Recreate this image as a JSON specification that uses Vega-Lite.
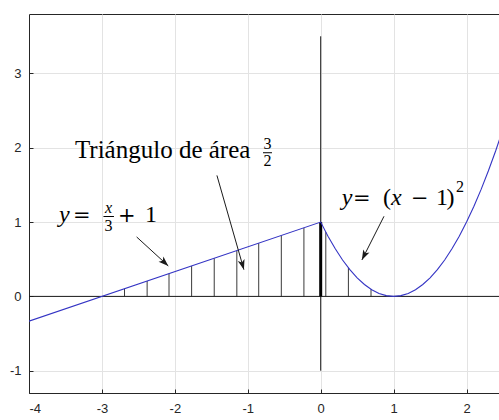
{
  "$schema": "https://vega.github.io/schema/vega-lite/v6.json",
  "width": 474,
  "height": 379,
  "autosize": {"type": "none"},
  "padding": {"left": 29, "top": 14, "right": 0, "bottom": 27},
  "background": "white",
  "config": {
    "view": {"stroke": "#262626", "strokeWidth": 1},
    "axis": {
      "grid": true,
      "gridColor": "#e3e3e3",
      "gridWidth": 1,
      "domain": true,
      "domainColor": "#262626",
      "domainWidth": 1,
      "ticks": true,
      "tickSize": -4,
      "tickColor": "#262626",
      "labelColor": "#262626",
      "labelFont": "Liberation Sans",
      "labelFontSize": 13,
      "title": null,
      "labelExpr": "toString(datum.value)"
    },
    "text": {"font": "Liberation Serif", "color": "#000000"}
  },
  "datasets": {
    "curve": [
      {"x": -4, "y": -0.3333},
      {"x": 0, "y": 1},
      {"x": 0.1, "y": 0.81},
      {"x": 0.2, "y": 0.64},
      {"x": 0.3, "y": 0.49},
      {"x": 0.4, "y": 0.36},
      {"x": 0.5, "y": 0.25},
      {"x": 0.6, "y": 0.16},
      {"x": 0.7, "y": 0.09},
      {"x": 0.8, "y": 0.04},
      {"x": 0.9, "y": 0.01},
      {"x": 1.0, "y": 0.0},
      {"x": 1.1, "y": 0.01},
      {"x": 1.2, "y": 0.04},
      {"x": 1.3, "y": 0.09},
      {"x": 1.4, "y": 0.16},
      {"x": 1.5, "y": 0.25},
      {"x": 1.6, "y": 0.36},
      {"x": 1.7, "y": 0.49},
      {"x": 1.8, "y": 0.64},
      {"x": 1.9, "y": 0.81},
      {"x": 2.0, "y": 1.0},
      {"x": 2.1, "y": 1.21},
      {"x": 2.2, "y": 1.44},
      {"x": 2.3, "y": 1.69},
      {"x": 2.4, "y": 1.96},
      {"x": 2.5, "y": 2.25}
    ],
    "hatch": [
      {"x": -2.69, "y": 0.103},
      {"x": -2.38, "y": 0.207},
      {"x": -2.08, "y": 0.307},
      {"x": -1.77, "y": 0.41},
      {"x": -1.46, "y": 0.513},
      {"x": -1.15, "y": 0.617},
      {"x": -0.85, "y": 0.717},
      {"x": -0.54, "y": 0.82},
      {"x": -0.23, "y": 0.923},
      {"x": 0.07, "y": 0.865},
      {"x": 0.38, "y": 0.384},
      {"x": 0.69, "y": 0.096}
    ],
    "edge": [{"x": 0, "y": 1}],
    "vaxis": [{"x": 0, "y1": -1, "y2": 3.5}],
    "arrows": [
      {"id": 1, "x1": -2.524, "y1": 0.80, "x2": -2.09, "y2": 0.41},
      {"id": 2, "x1": -1.423, "y1": 1.628, "x2": -1.053, "y2": 0.36},
      {"id": 3, "x1": 0.868, "y1": 1.078, "x2": 0.565, "y2": 0.49}
    ],
    "title": [{"text": "Triángulo de área", "x": -3.37, "y": 1.856}],
    "roman": [
      {"text": "1", "x": -2.41, "y": 1.001},
      {"text": "(", "x": 0.854, "y": 1.23},
      {"text": "1", "x": 1.581, "y": 1.23},
      {"text": ")", "x": 1.725, "y": 1.23}
    ],
    "ops": [
      {"text": "=", "x": -3.397, "y": 1.001},
      {"text": "+", "x": -2.78, "y": 1.001},
      {"text": "=", "x": 0.442, "y": 1.23},
      {"text": "−", "x": 1.239, "y": 1.23}
    ],
    "italic": [
      {"text": "y", "x": -3.589, "y": 1.001},
      {"text": "y", "x": 0.288, "y": 1.23},
      {"text": "x", "x": 0.964, "y": 1.23}
    ],
    "fracRoman": [
      {"text": "3", "x": -2.91, "y": 0.88},
      {"text": "2", "x": 1.91, "y": 1.40},
      {"text": "3", "x": -0.73, "y": 1.977},
      {"text": "2", "x": -0.73, "y": 1.748}
    ],
    "fracItalic": [
      {"text": "x", "x": -2.91, "y": 1.116}
    ],
    "bars": [
      {"x1": -2.979, "x2": -2.835, "y": 1.075},
      {"x1": -0.791, "x2": -0.668, "y": 1.933}
    ]
  },
  "layer": [
    {
      "data": {"name": "hatch"},
      "mark": {"type": "rule", "color": "#3a3a3a", "strokeWidth": 1},
      "encoding": {
        "x": {"field": "x", "type": "quantitative", "scale": {"domain": [-4, 2.5], "nice": false}, "axis": {"values": [-4, -3, -2, -1, 0, 1, 2], "labelPadding": 13}},
        "y": {"field": "y", "type": "quantitative", "scale": {"domain": [-1.3, 3.8], "nice": false}, "axis": {"values": [-1, 0, 1, 2, 3], "labelPadding": 12}},
        "y2": {"datum": 0}
      }
    },
    {
      "data": {"values": [{}]},
      "mark": {"type": "rule", "color": "#1a1a1a", "strokeWidth": 1},
      "encoding": {"y": {"datum": 0, "type": "quantitative"}}
    },
    {
      "data": {"name": "vaxis"},
      "mark": {"type": "rule", "color": "#1a1a1a", "strokeWidth": 1},
      "encoding": {
        "x": {"field": "x", "type": "quantitative"},
        "y": {"field": "y1", "type": "quantitative"},
        "y2": {"field": "y2"}
      }
    },
    {
      "data": {"name": "edge"},
      "mark": {"type": "rule", "color": "#000000", "strokeWidth": 3},
      "encoding": {
        "x": {"field": "x", "type": "quantitative"},
        "y": {"field": "y", "type": "quantitative"},
        "y2": {"datum": 0}
      }
    },
    {
      "data": {"name": "curve"},
      "mark": {"type": "line", "color": "#3434c4", "strokeWidth": 1.1, "clip": true},
      "encoding": {
        "x": {"field": "x", "type": "quantitative"},
        "y": {"field": "y", "type": "quantitative"}
      }
    },
    {
      "data": {"name": "arrows"},
      "mark": {"type": "rule", "color": "#1a1a1a", "strokeWidth": 1},
      "encoding": {
        "x": {"field": "x1", "type": "quantitative"},
        "y": {"field": "y1", "type": "quantitative"},
        "x2": {"field": "x2"},
        "y2": {"field": "y2"}
      }
    },
    {
      "data": {"name": "arrows"},
      "transform": [{"filter": "datum.id == 1"}],
      "mark": {"type": "point", "filled": true, "color": "#1a1a1a", "opacity": 1, "size": 100, "angle": 133, "shape": "M0,0L-0.7,2L0,1.5L0.7,2Z"},
      "encoding": {
        "x": {"field": "x2", "type": "quantitative"},
        "y": {"field": "y2", "type": "quantitative"}
      }
    },
    {
      "data": {"name": "arrows"},
      "transform": [{"filter": "datum.id == 2"}],
      "mark": {"type": "point", "filled": true, "color": "#1a1a1a", "opacity": 1, "size": 100, "angle": 164, "shape": "M0,0L-0.7,2L0,1.5L0.7,2Z"},
      "encoding": {
        "x": {"field": "x2", "type": "quantitative"},
        "y": {"field": "y2", "type": "quantitative"}
      }
    },
    {
      "data": {"name": "arrows"},
      "transform": [{"filter": "datum.id == 3"}],
      "mark": {"type": "point", "filled": true, "color": "#1a1a1a", "opacity": 1, "size": 100, "angle": 206.6, "shape": "M0,0L-0.7,2L0,1.5L0.7,2Z"},
      "encoding": {
        "x": {"field": "x2", "type": "quantitative"},
        "y": {"field": "y2", "type": "quantitative"}
      }
    },
    {
      "data": {"name": "bars"},
      "mark": {"type": "rule", "color": "#000000", "strokeWidth": 1},
      "encoding": {
        "x": {"field": "x1", "type": "quantitative"},
        "x2": {"field": "x2"},
        "y": {"field": "y", "type": "quantitative"}
      }
    },
    {
      "data": {"name": "title"},
      "mark": {"type": "text", "align": "left", "baseline": "alphabetic", "fontSize": 25},
      "encoding": {
        "x": {"field": "x", "type": "quantitative"},
        "y": {"field": "y", "type": "quantitative"},
        "text": {"field": "text"}
      }
    },
    {
      "data": {"name": "roman"},
      "mark": {"type": "text", "align": "left", "baseline": "alphabetic", "fontSize": 24},
      "encoding": {
        "x": {"field": "x", "type": "quantitative"},
        "y": {"field": "y", "type": "quantitative"},
        "text": {"field": "text"}
      }
    },
    {
      "data": {"name": "ops"},
      "mark": {"type": "text", "align": "left", "baseline": "alphabetic", "fontSize": 21, "font": "DejaVu Serif", "fontWeight": "normal"},
      "encoding": {
        "x": {"field": "x", "type": "quantitative"},
        "y": {"field": "y", "type": "quantitative"},
        "text": {"field": "text"}
      }
    },
    {
      "data": {"name": "italic"},
      "mark": {"type": "text", "align": "left", "baseline": "alphabetic", "fontSize": 24, "fontStyle": "italic"},
      "encoding": {
        "x": {"field": "x", "type": "quantitative"},
        "y": {"field": "y", "type": "quantitative"},
        "text": {"field": "text"}
      }
    },
    {
      "data": {"name": "fracRoman"},
      "mark": {"type": "text", "align": "center", "baseline": "alphabetic", "fontSize": 16},
      "encoding": {
        "x": {"field": "x", "type": "quantitative"},
        "y": {"field": "y", "type": "quantitative"},
        "text": {"field": "text"}
      }
    },
    {
      "data": {"name": "fracItalic"},
      "mark": {"type": "text", "align": "center", "baseline": "alphabetic", "fontSize": 16, "fontStyle": "italic"},
      "encoding": {
        "x": {"field": "x", "type": "quantitative"},
        "y": {"field": "y", "type": "quantitative"},
        "text": {"field": "text"}
      }
    }
  ]
}
